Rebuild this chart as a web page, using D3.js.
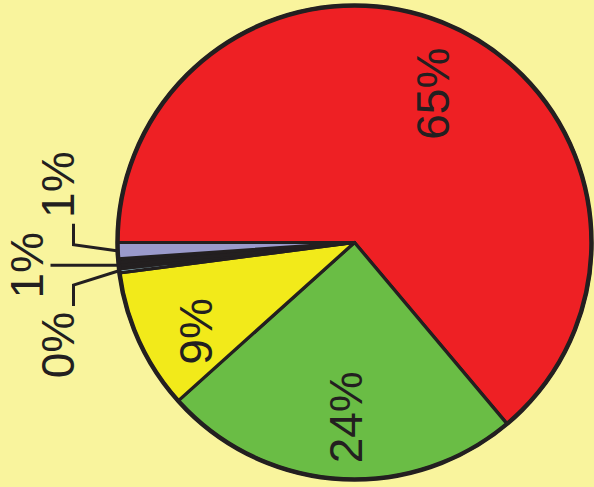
<!DOCTYPE html>
<html>
<head>
<meta charset="utf-8">
<script src="https://cdn.jsdelivr.net/npm/d3@7"></script>
<style>
  html, body { margin: 0; padding: 0; background: #F9F49D; }
  svg { display: block; }
  text { font-family: "Liberation Sans", Arial, sans-serif; fill: #231F20; }
</style>
</head>
<body>
<svg id="chart" width="594" height="487"></svg>
<script>
// ---- data ----
const categories = ["Slice A", "Slice B", "Slice C", "Slice D", "Slice E", "Slice F", "Slice G"];
const values     = [63.9, 24.5, 9.6, 0.28, 0.22, 0.45, 1.1];
const labels     = ["65%", "24%", "9%", "0%", "", "1%", "1%"];
const colors     = ["#EE2024", "#6ABD45", "#F2EA1A", "#A9DCE6", "#C459A8", "#231F20", "#9A9ACC"];

// ---- layout ----
const W = 594, H = 487;
const cx = 354.5, cy = 242.5, R = 237;
const ink = "#231F20";
const deg = Math.PI / 180;

const svg = d3.select("#chart");
svg.append("rect").attr("width", W).attr("height", H).attr("fill", "#F9F49D");

const rows = categories.map((c, i) => ({ cat: c, value: values[i], label: labels[i], color: colors[i], i }));

const pie = d3.pie()
  .sort(null)
  .value(d => d.value)
  .startAngle(-Math.PI / 2)
  .endAngle(3 * Math.PI / 2);

const arcs = pie(rows);
const arc = d3.arc().innerRadius(0).outerRadius(R);

const g = svg.append("g").attr("transform", `translate(${cx},${cy})`);

g.selectAll("path.slice")
  .data(arcs)
  .join("path")
  .attr("class", "slice")
  .attr("d", arc)
  .attr("fill", d => d.data.color)
  .attr("stroke", ink)
  .attr("stroke-width", 3.2)
  .attr("stroke-linejoin", "round");

g.append("circle").attr("r", R).attr("fill", "none").attr("stroke", ink).attr("stroke-width", 4.5);

// inside labels (large slices): placed near the slice centroid, with small nudges
const insideNudge = { 0: { r: 168, da: 2.7 }, 1: { r: 175, da: -1.1 }, 2: { r: 182, da: -4.6 } };
const inside = arcs.filter(d => d.value >= 5);
g.selectAll("text.inside")
  .data(inside)
  .join("text")
  .attr("class", "inside")
  .attr("transform", d => {
    const n = insideNudge[d.data.i];
    const a = (d.startAngle + d.endAngle) / 2 + n.da * deg;
    const x = Math.sin(a) * n.r, y = -Math.cos(a) * n.r;
    return `translate(${x},${y}) rotate(-90)`;
  })
  .attr("text-anchor", "middle")
  .attr("dy", "0.36em")
  .attr("font-size", 46)
  .text(d => d.data.label);

// outside labels with leader lines (small slices)
const leaderLayout = { 3: { dy: 14, dir: 1 }, 5: { dy: 0, dir: 0 }, 6: { dy: -6, dir: -1 } };
const outside = arcs.filter(d => d.value < 5 && d.data.label);
const elbowX = -R - 44;

outside.forEach(d => {
  const mid = (d.startAngle + d.endAngle) / 2;
  const ex = Math.sin(mid) * (R + 1);
  const ey = -Math.cos(mid) * (R + 1);
  const lay = leaderLayout[d.data.i];
  let pts, tx, ty;
  if (lay.dir === 0) {
    pts = [[ex, ey + 3], [elbowX - 23, ey + 3]];
    tx = elbowX - 47; ty = ey + 3;
  } else {
    const by = ey + lay.dy;
    const vy = by + lay.dir * 21;
    pts = [[ex, ey], [elbowX, by], [elbowX, vy]];
    tx = elbowX - 16; ty = vy + lay.dir * 39;
  }
  g.append("path")
    .attr("d", d3.line()(pts))
    .attr("fill", "none")
    .attr("stroke", ink)
    .attr("stroke-width", 3);
  g.append("text")
    .attr("transform", `translate(${tx},${ty}) rotate(-90)`)
    .attr("text-anchor", "middle")
    .attr("dy", "0.36em")
    .attr("font-size", 46)
    .text(d.data.label);
});
</script>
</body>
</html>
